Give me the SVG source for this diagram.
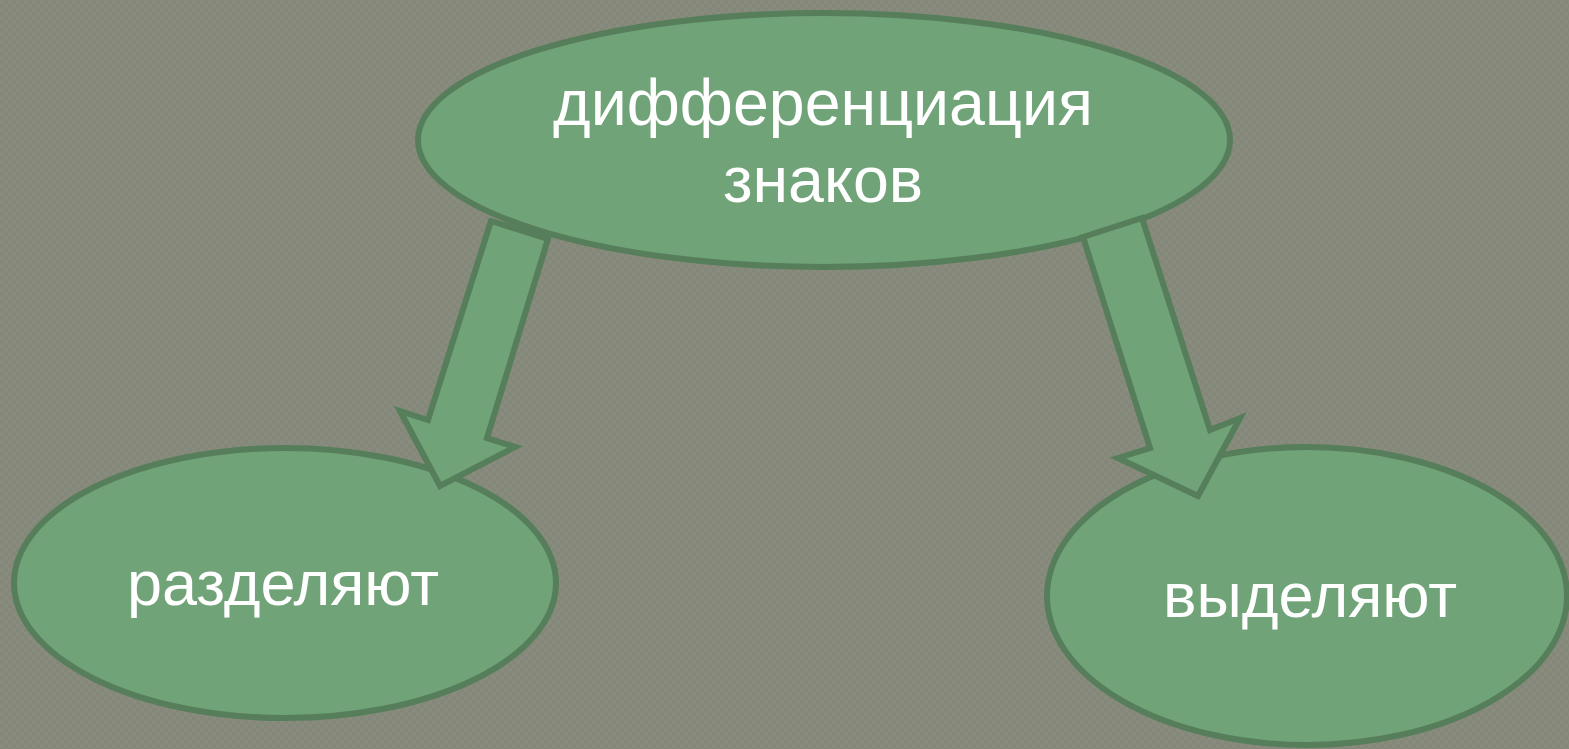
<svg xmlns="http://www.w3.org/2000/svg" width="1569" height="749" viewBox="0 0 1569 749">
<defs>
<pattern id="bg" width="8" height="8" patternUnits="userSpaceOnUse">
<rect width="8" height="8" fill="#84887a"/>
<rect width="4" height="4" fill="#898c7c"/>
<rect x="4" y="4" width="4" height="4" fill="#898c7c"/>
</pattern>
<style>
.node{fill:#70a377;stroke:#567e5b;stroke-width:6}
.arrow{fill:#70a377;stroke:#567e5b;stroke-width:6;stroke-linejoin:miter}
.lbl{font-family:"Liberation Sans",Arial,sans-serif;font-size:63px;fill:#ffffff;text-anchor:middle}
.big{font-size:64.5px}
</style>
</defs>
<rect width="1569" height="749" fill="url(#bg)"/>
<g id="node-top">
<ellipse class="node" cx="824" cy="140" rx="406" ry="127"/>
<text class="lbl big" x="823" y="125">дифференциация</text>
<text class="lbl big" x="823" y="202">знаков</text>
</g>
<g id="node-left">
<ellipse class="node" cx="285" cy="583" rx="271" ry="135"/>
<text class="lbl" x="283" y="605">разделяют</text>
</g>
<g id="node-right">
<ellipse class="node" cx="1307" cy="596" rx="260" ry="149"/>
<text class="lbl" x="1310" y="617">выделяют</text>
</g>
<g id="connectors">
<polygon class="arrow" points="491,221 548,239 487,438 515,447 440,486 400,411 428,420"/>
<polygon class="arrow" points="1083,237 1142,218 1210,430 1240,418 1198,496 1118,458 1150,448"/>
</g>
</svg>
